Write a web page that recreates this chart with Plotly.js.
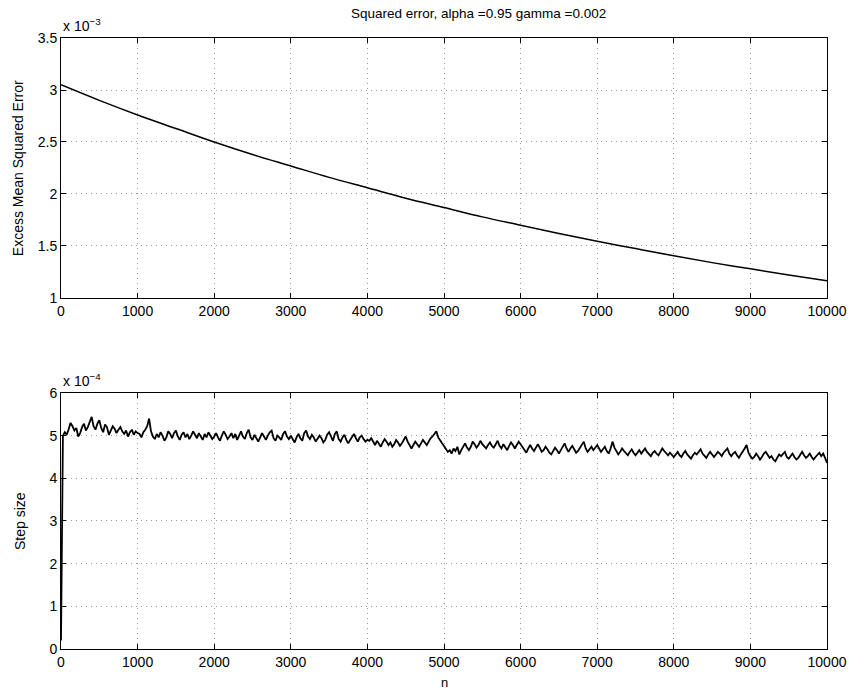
<!DOCTYPE html>
<html>
<head>
<meta charset="utf-8">
<script src="https://cdn.plot.ly/plotly-3.0.1.min.js"></script>
<style>html,body{margin:0;padding:0;background:#fff;}#chart{width:850px;height:690px;}</style>
</head>
<body>
<div id="chart"></div>
<script>
// Top panel: excess mean squared error (units of 1e-3)
var mseN = [0,500,1000,1500,2000,2500,3000,3500,4000,4500,5000,5500,6000,6500,7000,7500,8000,8500,9000,9500,10000];
var mseVal = [3.05,2.90,2.76,2.63,2.50,2.38,2.27,2.16,2.06,1.96,1.87,1.78,1.70,1.62,1.545,1.475,1.405,1.34,1.28,1.22,1.165];

// Bottom panel: step size (units of 1e-4)
var stepStartN = [0,8,16];
var stepStartVal = [0.2,2.0,4.0];
var stepVal = [
 5.00,5.08,5.02,5.15,5.30,5.22,5.12,5.18,4.98,5.06,5.20,5.28,5.12,5.20,5.34,5.44,5.22,5.14,5.28,5.36,
 5.18,5.08,5.26,5.20,5.02,5.12,5.22,5.16,5.06,5.14,5.20,5.10,5.04,5.12,4.98,5.08,5.14,5.02,5.10,5.06,
 5.04,4.96,5.08,5.14,5.22,5.40,5.10,4.98,4.92,5.04,4.96,5.08,5.00,4.88,4.96,5.10,5.04,4.94,5.06,5.12,
 4.98,4.90,5.02,5.08,4.96,5.04,4.92,5.00,5.10,5.02,4.94,5.06,4.98,4.90,5.04,4.96,5.08,5.00,4.92,4.98,
 5.06,4.96,4.88,5.00,5.10,5.02,4.92,4.98,5.06,4.94,5.04,4.90,5.00,5.10,4.98,4.92,5.06,5.14,4.96,4.90,
 5.02,4.94,4.86,4.96,5.06,4.98,4.90,5.00,5.08,5.12,4.94,4.88,5.00,4.96,4.90,5.04,5.10,4.98,4.92,5.00,
 4.90,4.84,4.96,5.04,4.94,4.88,5.06,5.12,4.98,4.92,5.02,4.96,4.86,4.92,5.00,4.94,4.84,4.90,5.02,5.08,
 4.96,4.88,5.04,5.10,4.92,4.86,4.96,5.02,4.90,4.82,4.90,4.98,5.04,4.94,4.86,4.96,5.00,4.92,4.86,4.90,
 4.88,4.94,4.84,4.78,4.88,4.82,4.74,4.84,4.92,4.86,4.78,4.84,4.74,4.80,4.90,4.84,4.76,4.82,4.92,4.98,
 4.86,4.78,4.70,4.78,4.86,4.80,4.74,4.82,4.90,4.84,4.78,4.86,4.94,4.98,5.04,5.10,4.96,4.88,4.82,4.76,
 4.68,4.62,4.66,4.58,4.70,4.64,4.74,4.56,4.66,4.76,4.82,4.72,4.66,4.74,4.86,4.80,4.72,4.78,4.88,4.80,
 4.74,4.70,4.78,4.84,4.76,4.72,4.80,4.88,4.76,4.70,4.80,4.74,4.66,4.76,4.84,4.78,4.70,4.78,4.86,4.80,
 4.74,4.66,4.60,4.70,4.78,4.70,4.64,4.72,4.80,4.72,4.62,4.66,4.74,4.68,4.60,4.56,4.64,4.72,4.66,4.58,
 4.66,4.76,4.82,4.70,4.62,4.70,4.76,4.68,4.60,4.64,4.72,4.80,4.86,4.70,4.62,4.68,4.74,4.66,4.72,4.78,
 4.70,4.62,4.68,4.74,4.64,4.58,4.70,4.86,4.72,4.64,4.56,4.62,4.70,4.64,4.58,4.54,4.62,4.68,4.60,4.54,
 4.60,4.66,4.58,4.64,4.70,4.62,4.56,4.52,4.60,4.64,4.58,4.54,4.62,4.70,4.64,4.58,4.54,4.60,4.56,4.50,
 4.56,4.62,4.54,4.50,4.58,4.64,4.56,4.50,4.46,4.54,4.60,4.56,4.62,4.68,4.58,4.52,4.48,4.56,4.62,4.56,
 4.50,4.56,4.62,4.58,4.52,4.60,4.66,4.70,4.58,4.52,4.58,4.62,4.54,4.48,4.56,4.62,4.70,4.78,4.60,4.52,
 4.46,4.50,4.58,4.52,4.44,4.50,4.58,4.62,4.54,4.48,4.52,4.44,4.40,4.48,4.56,4.52,4.58,4.62,4.50,4.46,
 4.52,4.58,4.50,4.44,4.48,4.56,4.62,4.54,4.48,4.52,4.58,4.50,4.44,4.50,4.56,4.60,4.52,4.58,4.48,4.36
];
var stepSpacing = 25;

var xTicks = [0,1000,2000,3000,4000,5000,6000,7000,8000,9000,10000];
var xTickText = ['0','1000','2000','3000','4000','5000','6000','7000','8000','9000','10000'];
var yTopTicks = [1,1.5,2,2.5,3,3.5];
var yTopText = ['1','1.5','2','2.5','3','3.5'];
var yBotTicks = [0,1,2,3,4,5,6];
var yBotText = ['0','1','2','3','4','5','6'];

var titleText = 'Squared error, alpha =0.95 gamma =0.002';
var topYLabel = 'Excess Mean Squared Error';
var botYLabel = 'Step size';
var botXLabel = 'n';

var stepN = stepStartN.slice();
var stepY = stepStartVal.slice();
for (var i = 0; i < stepVal.length; i++) { stepN.push((i + 1) * stepSpacing); stepY.push(stepVal[i]); }

var font = 'Liberation Sans, Arial, Helvetica, sans-serif';
function axisBase(extra) {
  var a = {
    showline: true, linecolor: '#000', linewidth: 1, mirror: 'ticks',
    ticks: 'inside', ticklen: 5, tickcolor: '#000', tickwidth: 1,
    showgrid: true, gridcolor: '#999999', griddash: '1px,4px', gridwidth: 1,
    zeroline: false, tickmode: 'array',
    tickfont: {family: font, size: 14, color: '#000'}
  };
  for (var k in extra) a[k] = extra[k];
  return a;
}

var traces = [
  {x: mseN, y: mseVal, type: 'scatter', mode: 'lines', line: {color: '#000', width: 1.5, shape: 'spline'}, xaxis: 'x', yaxis: 'y', hoverinfo: 'none'},
  {x: stepN, y: stepY, type: 'scatter', mode: 'lines', line: {color: '#000', width: 1.8}, xaxis: 'x2', yaxis: 'y2', hoverinfo: 'none'}
];

var layout = {
  width: 850, height: 690,
  margin: {l: 61, r: 23, t: 38, b: 41},
  paper_bgcolor: '#fff', plot_bgcolor: '#fff',
  showlegend: false,
  font: {family: font, color: '#000'},
  xaxis: axisBase({anchor: 'y', range: [0, 10000], tickvals: xTicks, ticktext: xTickText, domain: [0, 1]}),
  yaxis: axisBase({anchor: 'x', range: [1, 3.5], tickvals: yTopTicks, ticktext: yTopText, domain: [0.5745, 1]}),
  xaxis2: axisBase({anchor: 'y2', range: [0, 10000], tickvals: xTicks, ticktext: xTickText, domain: [0, 1]}),
  yaxis2: axisBase({anchor: 'x2', range: [0, 6], tickvals: yBotTicks, ticktext: yBotText, domain: [0, 0.419]}),
  annotations: [
    {text: titleText, xref: 'paper', yref: 'paper', x: 0.545, y: 1, yshift: 34, xanchor: 'center', yanchor: 'top', showarrow: false, font: {family: font, size: 13.5}},
    {text: 'x 10<sup>\u22123</sup>', xref: 'paper', yref: 'paper', x: 0, y: 1, xanchor: 'left', yanchor: 'bottom', yshift: 2, showarrow: false, font: {family: font, size: 14}},
    {text: 'x 10<sup>\u22124</sup>', xref: 'paper', yref: 'paper', x: 0, y: 0.419, xanchor: 'left', yanchor: 'bottom', yshift: 2, showarrow: false, font: {family: font, size: 14}},
    {text: topYLabel, xref: 'paper', yref: 'paper', x: 0, xshift: -43, y: 0.787, textangle: -90, xanchor: 'center', yanchor: 'middle', showarrow: false, font: {family: font, size: 14}},
    {text: botYLabel, xref: 'paper', yref: 'paper', x: 0, xshift: -41, y: 0.2095, textangle: -90, xanchor: 'center', yanchor: 'middle', showarrow: false, font: {family: font, size: 14}},
    {text: botXLabel, xref: 'paper', yref: 'paper', x: 0.5, y: 0, yshift: -24, xanchor: 'center', yanchor: 'top', showarrow: false, font: {family: font, size: 13}}
  ]
};

Plotly.newPlot('chart', traces, layout, {staticPlot: true, displayModeBar: false});
</script>
</body>
</html>
